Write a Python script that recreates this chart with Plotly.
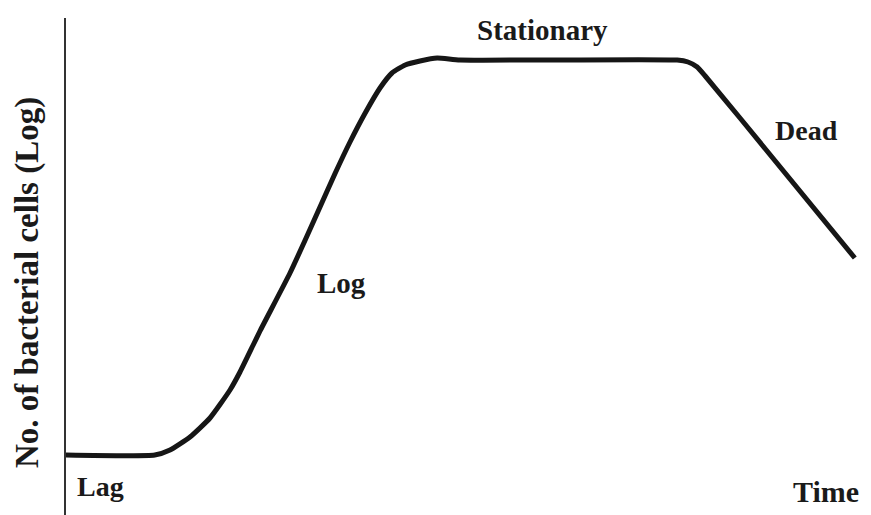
import plotly.graph_objects as go

# Growth curve (arbitrary units)
time = [0, 11.1, 13.0, 15.5, 18.0, 20.5, 21.75, 23.4, 24.25, 28.0, 29.9, 31.75, 33.6, 35.5,
        37.4, 39.25, 40.75, 42.4, 44.25, 46.4, 49.25, 76.4, 77.75, 78.9, 79.9, 84.25, 98.6]
cells = [12, 12, 13.0, 15.6, 19.4, 25.0, 28.6, 34.0, 36.8, 48.4, 55.0, 61.6, 68.2, 74.6,
         80.4, 85.4, 88.4, 90.0, 90.8, 91.4, 91.0, 91.0, 90.6, 89.6, 87.8, 79.4, 51.4]

phase_labels = ["Stationary", "Dead", "Log", "Lag"]
phase_x = [59.6, 92.5, 34.4, 4.25]
phase_y = [97.0, 77.0, 46.5, 5.8]
phase_size = [29, 28, 29, 28]

FONT = "Liberation Serif"
OFF = 8                      # page body margin
SW, SH = 871, 515            # screen size
W, H = SW - OFF, SH - OFF
L, T = 66 - OFF, 18 - OFF

fig = go.Figure()
fig.add_trace(go.Scatter(x=time, y=cells, mode="lines",
                         line=dict(color="#161616", width=5, shape="spline", smoothing=0.5),
                         hoverinfo="skip", showlegend=False, cliponaxis=False))

for t, x, y, s in zip(phase_labels, phase_x, phase_y, phase_size):
    fig.add_annotation(x=x, y=y, xref="x", yref="y", text="<b>%s</b>" % t, showarrow=False,
                       font=dict(family=FONT, size=s, color="#1a1a1a"),
                       xanchor="center", yanchor="middle")

def px_to_paper(px, py):
    # screen pixel -> paper coordinates
    return (px - OFF - L) / (W - L), (H - (py - OFF)) / (H - T)

tx, ty = px_to_paper(826, 491)
fig.add_annotation(x=tx, y=ty, xref="paper", yref="paper", text="<b>Time</b>", showarrow=False,
                   font=dict(family=FONT, size=30, color="#1a1a1a"),
                   xanchor="center", yanchor="middle")

yx, yy = px_to_paper(27, 283)
fig.add_annotation(x=yx, y=yy, xref="paper", yref="paper",
                   text="<b>No. of bacterial cells (Log)</b>", showarrow=False, textangle=-90,
                   font=dict(family=FONT, size=33, color="#1a1a1a"),
                   xanchor="center", yanchor="middle")

fig.update_layout(
    width=W, height=H,
    margin=dict(l=L, r=0, t=T, b=0, pad=0, autoexpand=False),
    paper_bgcolor="white", plot_bgcolor="white",
    xaxis=dict(range=[0, 100.625], showgrid=False, zeroline=False, showticklabels=False,
               ticks="", showline=False, fixedrange=True, automargin=False),
    yaxis=dict(range=[0, 99.4], showgrid=False, zeroline=False, showticklabels=False,
               ticks="", showline=True, linecolor="#333333", linewidth=2, fixedrange=True,
               automargin=False),
)

fig.write_html("out.html")
